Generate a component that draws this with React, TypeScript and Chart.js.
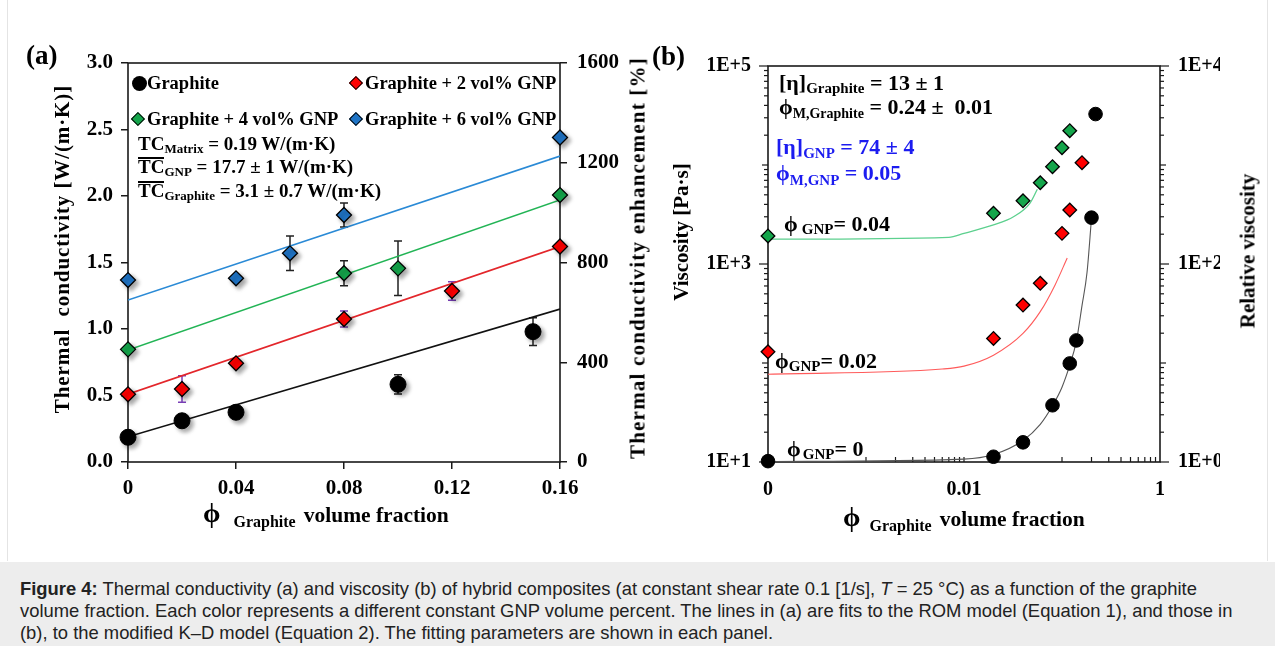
import React, { useEffect, useRef } from "react";
import { Chart, registerables } from "chart.js";

Chart.register(...registerables);

const SERIF = '"Liberation Serif", "Times New Roman", Times, serif';
const SANS = '"Liberation Sans", Arial, Helvetica, sans-serif';
const AXIS = "#1a1a1a";

// ---------------- Panel (a): thermal conductivity ----------------
const tcPhiGraphite = [0, 0.02, 0.04, 0.1, 0.15];
const tcGraphite = [0.186, 0.31, 0.374, 0.584, 0.98];
const tcErrGraphite = [0, 0, 0, 0.072, 0.104];

const tcPhiGnp2 = [0, 0.02, 0.04, 0.08, 0.12, 0.16];
const tcGnp2 = [0.509, 0.549, 0.742, 1.075, 1.286, 1.62];
const tcErrGnp2 = [0, 0.1, 0, 0.06, 0.07, 0];

const tcPhiGnp4 = [0, 0.08, 0.1, 0.16];
const tcGnp4 = [0.847, 1.419, 1.456, 2.007];
const tcErrGnp4 = [0, 0.094, 0.205, 0];

const tcPhiGnp6 = [0, 0.04, 0.06, 0.08, 0.16];
const tcGnp6 = [1.368, 1.381, 1.569, 1.857, 2.44];
const tcErrGnp6 = [0, 0, 0.13, 0.09, 0];

// ROM model fit lines
const romPhi = [0, 0.16];
const romGraphite = [0.19, 1.15];
const romGnp2 = [0.51, 1.62];
const romGnp4 = [0.842, 1.97];
const romGnp6 = [1.218, 2.3];

const tcXTicks = [0, 0.04, 0.08, 0.12, 0.16];
const tcYTicks = [0, 0.5, 1, 1.5, 2, 2.5, 3];
const tcEnhTicks = [0, 400, 800, 1200, 1600];

// ---------------- Panel (b): viscosity ----------------
const ZERO_ON_LOG = 0.0001; // the "0" tick of the log axis
const viscPhiGraphite = [0, 0.02, 0.04, 0.08, 0.12, 0.14, 0.2, 0.22];
const viscGraphite = [10.2, 11.3, 15.8, 37.4, 99, 169, 2940, 32700];
const viscPhiGnp2 = [0, 0.02, 0.04, 0.06, 0.1, 0.12, 0.16];
const viscGnp2 = [130, 177, 385, 638, 2040, 3510, 10550];
const viscPhiGnp4 = [0, 0.02, 0.04, 0.06, 0.08, 0.1, 0.12];
const viscGnp4 = [1920, 3250, 4350, 6620, 9620, 14960, 22200];

// modified K-D model fit curves
const kdPhiGraphite = [0, 0.01, 0.02, 0.04, 0.06, 0.08, 0.1, 0.12, 0.14, 0.16, 0.18, 0.2];
const kdGraphite = [10.1, 10.7, 11.9, 16.5, 24, 37, 57, 95, 165, 380, 820, 2900];
const kdPhiGnp2 = [0, 0.006, 0.01, 0.02, 0.04, 0.06, 0.085, 0.113];
const kdGnp2 = [77, 87, 93, 120, 199, 330, 615, 1150];
const kdPhiGnp4 = [0, 0.007, 0.01, 0.02, 0.032, 0.047, 0.056];
const kdGnp4 = [1780, 1860, 2040, 2480, 3000, 4100, 5690];

const viscXTicks = [0.0001, 0.01, 1];
const viscXLabels = ["0", "0.01", "1"];
const viscYTicks = [10, 1000, 100000];
const viscYLabels = ["1E+1", "1E+3", "1E+5"];
const relYTicks = [1, 100, 10000];
const relYLabels = ["1E+0", "1E+2", "1E+4"];
const viscXMinorTicks = [
  0.001, 0.002, 0.003, 0.004, 0.005, 0.006, 0.007, 0.008, 0.009, 0.01,
  0.1, 0.2, 0.3, 0.4, 0.5, 0.6, 0.7, 0.8, 0.9,
];
const logMultipliers = [2, 3, 4, 5, 6, 7, 8, 9];
const viscDecades = [10, 100, 1000, 10000];
const relDecades = [1, 10, 100, 1000];

const pts = (xs: number[], ys: number[], zero = 0) =>
  xs.map((x, i) => ({ x: x === 0 && zero ? zero : x, y: ys[i] }));

const tickFont = (size: number) => ({ family: SERIF, size, weight: "bold" as const });

function framePlugin() {
  return {
    id: "frame",
    beforeDatasetsDraw(chart: any) {
      const { ctx, chartArea: ca } = chart;
      ctx.save();
      ctx.strokeStyle = AXIS;
      ctx.lineWidth = 1.6;
      ctx.strokeRect(ca.left, ca.top, ca.right - ca.left, ca.bottom - ca.top);
      ctx.restore();
    },
  };
}

function errorBarPlugin(bars: { x: number; y: number; e: number; color: string }[]) {
  return {
    id: "errorBars",
    beforeDatasetsDraw(chart: any) {
      const { ctx } = chart;
      const xs = chart.scales.x;
      const ys = chart.scales.y;
      ctx.save();
      ctx.lineWidth = 1.5;
      bars.forEach((b) => {
        if (!b.e) return;
        const px = xs.getPixelForValue(b.x);
        const lo = ys.getPixelForValue(b.y - b.e);
        const hi = ys.getPixelForValue(b.y + b.e);
        ctx.strokeStyle = b.color;
        ctx.beginPath();
        ctx.moveTo(px, lo);
        ctx.lineTo(px, hi);
        ctx.moveTo(px - 4, lo);
        ctx.lineTo(px + 4, lo);
        ctx.moveTo(px - 4, hi);
        ctx.lineTo(px + 4, hi);
        ctx.stroke();
      });
      ctx.restore();
    },
  };
}

function shadowPlugin() {
  return {
    id: "markerShadow",
    beforeDatasetDraw(chart: any, args: any) {
      const ds = chart.data.datasets[args.index];
      if (!ds.shadow) return;
      const ctx = chart.ctx;
      ctx.save();
      ctx.shadowColor = "rgba(0,0,0,0.35)";
      ctx.shadowBlur = 4;
      ctx.shadowOffsetX = 3;
      ctx.shadowOffsetY = 3;
    },
    afterDatasetDraw(chart: any, args: any) {
      const ds = chart.data.datasets[args.index];
      if (!ds.shadow) return;
      chart.ctx.restore();
    },
  };
}

type Mark = { axis: "x" | "y" | "y2"; values: number[]; len: number };
function tickMarkPlugin(marks: Mark[]) {
  return {
    id: "tickMarks",
    beforeDatasetsDraw(chart: any) {
      const { ctx, chartArea: ca } = chart;
      ctx.save();
      ctx.strokeStyle = AXIS;
      ctx.lineWidth = 1.2;
      marks.forEach((m) => {
        const sc = chart.scales[m.axis];
        m.values.forEach((v) => {
          const p = sc.getPixelForValue(v);
          ctx.beginPath();
          if (m.axis === "x") {
            ctx.moveTo(p, ca.bottom);
            ctx.lineTo(p, ca.bottom - m.len);
          } else if (m.axis === "y") {
            ctx.moveTo(ca.left, p);
            ctx.lineTo(ca.left - m.len, p);
          } else {
            ctx.moveTo(ca.right, p);
            ctx.lineTo(ca.right + m.len, p);
          }
          ctx.stroke();
        });
      });
      ctx.restore();
    },
  };
}

const marker = (label: string, data: any[], style: string, color: string, r: number, shadow: boolean) => ({
  label,
  data,
  showLine: false,
  pointStyle: style,
  pointRadius: r,
  pointHoverRadius: r,
  backgroundColor: color,
  borderColor: "#000",
  borderWidth: style === "circle" ? 1 : 1.3,
  order: 0,
  clip: false,
  shadow,
});

const fitLine = (data: any[], color: string, width: number, smooth: boolean) => ({
  data,
  showLine: true,
  borderColor: color,
  borderWidth: width,
  pointRadius: 0,
  pointHoverRadius: 0,
  fill: false,
  order: 2,
  cubicInterpolationMode: smooth ? "monotone" : "default",
});

function ThermalChart() {
  const ref = useRef<HTMLCanvasElement | null>(null);
  useEffect(() => {
    if (!ref.current) return;
    const errBars = [
      ...tcPhiGraphite.map((x, i) => ({ x, y: tcGraphite[i], e: tcErrGraphite[i], color: "#222" })),
      ...tcPhiGnp2.map((x, i) => ({ x, y: tcGnp2[i], e: tcErrGnp2[i], color: "#7a3fb8" })),
      ...tcPhiGnp4.map((x, i) => ({ x, y: tcGnp4[i], e: tcErrGnp4[i], color: "#222" })),
      ...tcPhiGnp6.map((x, i) => ({ x, y: tcGnp6[i], e: tcErrGnp6[i], color: "#222" })),
    ];
    const chart = new Chart(ref.current, {
      type: "scatter",
      data: {
        datasets: [
          marker("Graphite", pts(tcPhiGraphite, tcGraphite), "circle", "#000", 8, true),
          marker("Graphite + 2 vol% GNP", pts(tcPhiGnp2, tcGnp2), "rectRot", "#ff0000", 7.5, true),
          marker("Graphite + 4 vol% GNP", pts(tcPhiGnp4, tcGnp4), "rectRot", "#14a54b", 7.5, true),
          marker("Graphite + 6 vol% GNP", pts(tcPhiGnp6, tcGnp6), "rectRot", "#1f74c6", 7.5, true),
          fitLine(pts(romPhi, romGraphite), "#111", 1.6, false),
          fitLine(pts(romPhi, romGnp2), "#e3262b", 1.6, false),
          fitLine(pts(romPhi, romGnp4), "#22b455", 1.6, false),
          fitLine(pts(romPhi, romGnp6), "#2a8ad6", 1.6, false),
        ] as any,
      },
      options: {
        responsive: false,
        animation: false,
        events: [],
        layout: { padding: { left: 68, right: 20, top: 63, bottom: 58 } },
        plugins: { legend: { display: false }, tooltip: { enabled: false } },
        scales: {
          x: {
            type: "linear",
            min: 0,
            max: 0.16,
            afterBuildTicks: (s: any) => {
              s.ticks = tcXTicks.map((v) => ({ value: v }));
            },
            afterFit: (s: any) => {
              s.height = 40;
            },
            ticks: {
              callback: (v: any) => String(v),
              font: tickFont(21),
              color: "#000",
              padding: 7,
              maxRotation: 0,
              autoSkip: false,
            },
            grid: { drawOnChartArea: false, drawTicks: true, tickLength: 7, color: AXIS, lineWidth: 1.5 },
            border: { display: false },
          },
          y: {
            type: "linear",
            position: "left",
            min: 0,
            max: 3,
            afterBuildTicks: (s: any) => {
              s.ticks = tcYTicks.map((v) => ({ value: v }));
            },
            afterFit: (s: any) => {
              s.width = 60;
            },
            ticks: { callback: (v: any) => Number(v).toFixed(1), font: tickFont(21), color: "#000", padding: 8 },
            grid: { drawOnChartArea: false, drawTicks: true, tickLength: 7, color: AXIS, lineWidth: 1.5 },
            border: { display: false },
          },
          y2: {
            type: "linear",
            position: "right",
            min: 0,
            max: 1600,
            afterBuildTicks: (s: any) => {
              s.ticks = tcEnhTicks.map((v) => ({ value: v }));
            },
            afterFit: (s: any) => {
              s.width = 60;
            },
            ticks: { callback: (v: any) => String(v), font: tickFont(21), color: "#000", padding: 10 },
            grid: { drawOnChartArea: false, drawTicks: true, tickLength: 7, color: AXIS, lineWidth: 1.5 },
            border: { display: false },
          },
        },
      } as any,
      plugins: [framePlugin(), errorBarPlugin(errBars), shadowPlugin()] as any,
    });
    return () => chart.destroy();
  }, []);
  return (
    <canvas
      ref={ref}
      width={640}
      height={560}
      style={{ position: "absolute", left: 0, top: 0, width: 640, height: 560 }}
    />
  );
}

function ViscosityChart() {
  const ref = useRef<HTMLCanvasElement | null>(null);
  useEffect(() => {
    if (!ref.current) return;
    const viscMinor = viscDecades.flatMap((d) => logMultipliers.map((m) => m * d));
    const relMinor = relDecades.flatMap((d) => logMultipliers.map((m) => m * d));
    const marks: Mark[] = [
      { axis: "x", values: viscXMinorTicks, len: 5 },
      { axis: "y", values: viscMinor, len: 4 },
      { axis: "y", values: [100, 10000], len: 6 },
      { axis: "y", values: viscYTicks, len: 9 },
      { axis: "y2", values: relMinor, len: 4 },
      { axis: "y2", values: [10, 1000], len: 6 },
      { axis: "y2", values: relYTicks, len: 9 },
    ];
    const chart = new Chart(ref.current, {
      type: "scatter",
      data: {
        datasets: [
          marker("Graphite", pts(viscPhiGraphite, viscGraphite, ZERO_ON_LOG), "circle", "#000", 6.8, false),
          marker("GNP 0.02", pts(viscPhiGnp2, viscGnp2, ZERO_ON_LOG), "rectRot", "#ff0000", 6.8, false),
          marker("GNP 0.04", pts(viscPhiGnp4, viscGnp4, ZERO_ON_LOG), "rectRot", "#14a54b", 6.8, false),
          fitLine(pts(kdPhiGraphite, kdGraphite, ZERO_ON_LOG), "#555", 1.1, true),
          fitLine(pts(kdPhiGnp2, kdGnp2, ZERO_ON_LOG), "#ff5b5b", 1.1, true),
          fitLine(pts(kdPhiGnp4, kdGnp4, ZERO_ON_LOG), "#5cd08e", 1.3, true),
        ] as any,
      },
      options: {
        responsive: false,
        animation: false,
        events: [],
        layout: { padding: { left: 68, right: 55, top: 66, bottom: 58 } },
        plugins: { legend: { display: false }, tooltip: { enabled: false } },
        scales: {
          x: {
            type: "logarithmic",
            min: 0.0001,
            max: 1,
            afterBuildTicks: (s: any) => {
              s.ticks = viscXTicks.map((v) => ({ value: v }));
            },
            afterFit: (s: any) => {
              s.height = 40;
            },
            ticks: {
              callback: (_v: any, i: number) => viscXLabels[i],
              font: tickFont(20),
              color: "#000",
              padding: 16,
              maxRotation: 0,
              autoSkip: false,
            },
            grid: { display: false, drawTicks: false },
            border: { display: false },
          },
          y: {
            type: "logarithmic",
            position: "left",
            min: 10,
            max: 100000,
            afterBuildTicks: (s: any) => {
              s.ticks = viscYTicks.map((v) => ({ value: v }));
            },
            afterFit: (s: any) => {
              s.width = 60;
            },
            ticks: { callback: (_v: any, i: number) => viscYLabels[i], font: tickFont(20), color: "#000", padding: 17 },
            grid: { display: false, drawTicks: false },
            border: { display: false },
          },
          y2: {
            type: "logarithmic",
            position: "right",
            min: 1,
            max: 10000,
            afterBuildTicks: (s: any) => {
              s.ticks = relYTicks.map((v) => ({ value: v }));
            },
            afterFit: (s: any) => {
              s.width = 60;
            },
            ticks: { callback: (_v: any, i: number) => relYLabels[i], font: tickFont(20), color: "#000", padding: 18 },
            grid: { display: false, drawTicks: false },
            border: { display: false },
          },
        },
      } as any,
      plugins: [framePlugin(), tickMarkPlugin(marks)] as any,
    });
    return () => chart.destroy();
  }, []);
  return (
    <canvas
      ref={ref}
      width={635}
      height={560}
      style={{ position: "absolute", left: 640, top: 0, width: 635, height: 560 }}
    />
  );
}

// ---------- text helpers (baseline-positioned) ----------
function Txt(props: {
  x: number;
  b: number;
  size: number;
  color?: string;
  family?: string;
  weight?: number;
  children: any;
  style?: any;
}) {
  const fam = props.family || SERIF;
  const k = fam === SANS ? 0.3465 : 0.3375;
  return (
    <div
      style={{
        position: "absolute",
        left: props.x,
        top: props.b - k * props.size,
        fontFamily: fam,
        fontSize: props.size,
        fontWeight: props.weight ?? 700,
        color: props.color || "#000",
        lineHeight: 0,
        whiteSpace: "nowrap",
        ...(props.style || {}),
      }}
    >
      {props.children}
    </div>
  );
}

const Sub = (p: { s: number; d: number; children: any; ml?: number }) => (
  <span style={{ fontSize: p.s, verticalAlign: -p.d, marginLeft: p.ml || 0 }}>{p.children}</span>
);
const Sz = (p: { s: number; children: any; ml?: number; style?: any }) => (
  <span style={{ fontSize: p.s, marginLeft: p.ml || 0, ...(p.style || {}) }}>{p.children}</span>
);

function Bar(p: { x: number; y: number; w: number }) {
  return (
    <div style={{ position: "absolute", left: p.x, top: p.y, width: p.w, height: 1.5, background: "#000" }} />
  );
}

function VTxt(p: { cx: number; cy: number; size: number; ls?: number; children: any }) {
  return (
    <div
      style={{
        position: "absolute",
        left: p.cx,
        top: p.cy,
        transform: "translate(-50%, -50%) rotate(-90deg)",
        fontFamily: SERIF,
        fontWeight: 700,
        fontSize: p.size,
        letterSpacing: p.ls || 0,
        lineHeight: 1,
        whiteSpace: "nowrap",
      }}
    >
      {p.children}
    </div>
  );
}

function Dot(p: { cx: number; cy: number; r: number }) {
  return (
    <div
      style={{
        position: "absolute",
        left: p.cx - p.r,
        top: p.cy - p.r,
        width: 2 * p.r,
        height: 2 * p.r,
        borderRadius: "50%",
        background: "#000",
      }}
    />
  );
}

function Diamond(p: { cx: number; cy: number; r: number; color: string }) {
  const s = p.r * Math.SQRT2;
  return (
    <div
      style={{
        position: "absolute",
        left: p.cx - s / 2,
        top: p.cy - s / 2,
        width: s,
        height: s,
        background: p.color,
        border: "1.3px solid #000",
        boxSizing: "border-box",
        transform: "rotate(45deg)",
      }}
    />
  );
}

const BLUE = "#1c1cf0";

export default function App() {
  return (
    <div
      style={{
        position: "absolute",
        left: 0,
        top: 0,
        width: 1275,
        height: 646,
        background: "#fff",
        overflow: "hidden",
      }}
    >
      <div
        style={{
          position: "absolute",
          left: 7,
          top: -1,
          width: 1259,
          height: 562,
          borderLeft: "1px solid #e4e4e4",
          borderRight: "1px solid #e4e4e4",
        }}
      />
      <ThermalChart />
      <ViscosityChart />

      {/* ---- panel (a) texts ---- */}
      <Txt x={26} b={64} size={27}>(a)</Txt>
      <VTxt cx={62} cy={249} size={21} ls={0.9}>Thermal&nbsp; conductivity [W/(m·K)]</VTxt>
      <VTxt cx={638} cy={258} size={21} ls={1.2}>Thermal conductivity enhancement [%]</VTxt>
      <Txt x={203} b={522} size={28}>
        <Sz s={28}>ϕ</Sz>
        <Sub s={16} d={5} ml={13}>Graphite</Sub>
        <Sz s={21.5} ml={8}>volume fraction</Sz>
      </Txt>

      <Dot cx={139} cy={83} r={7.5} />
      <Txt x={147} b={89} size={18.5}>Graphite</Txt>
      <Diamond cx={356} cy={83} r={7} color="#ff0000" />
      <Txt x={365} b={89} size={18.5}>Graphite + 2 vol% GNP</Txt>
      <Diamond cx={138} cy={119} r={7} color="#14a54b" />
      <Txt x={147} b={125} size={18.5}>Graphite + 4 vol% GNP</Txt>
      <Diamond cx={356} cy={119} r={7} color="#1f74c6" />
      <Txt x={365} b={125} size={18.5}>Graphite + 6 vol% GNP</Txt>

      <Txt x={138} b={150} size={19}>
        TC<Sub s={13} d={3}>Matrix</Sub> = 0.19 W/(m·K)
      </Txt>
      <Bar x={138} y={157} w={26} />
      <Txt x={138} b={173} size={19}>
        TC<Sub s={13} d={3}>GNP</Sub> = 17.7 ± 1 W/(m·K)
      </Txt>
      <Bar x={138} y={181} w={26} />
      <Txt x={138} b={197} size={19}>
        TC<Sub s={13} d={3}>Graphite</Sub> = 3.1 ± 0.7 W/(m·K)
      </Txt>

      {/* ---- panel (b) texts ---- */}
      <Txt x={652} b={65} size={27}>(b)</Txt>
      <VTxt cx={681} cy={232} size={21}>Viscosity [Pa·s]</VTxt>
      <VTxt cx={1248} cy={251} size={21}>Relative viscosity</VTxt>
      <Txt x={843} b={526} size={28}>
        <Sz s={28}>ϕ</Sz>
        <Sub s={16} d={5} ml={9}>Graphite</Sub>
        <Sz s={21.5} ml={8}>volume fraction</Sz>
      </Txt>

      <Txt x={779} b={90} size={22}>
        [η]<Sub s={15} d={3}>Graphite</Sub> = 13 ± 1
      </Txt>
      <Txt x={779} b={114} size={22}>
        ϕ<Sub s={14} d={4}>M,Graphite</Sub> = 0.24 ±&nbsp; 0.01
      </Txt>
      <Txt x={776} b={154} size={22} color={BLUE}>
        [η]<Sub s={15} d={4}>GNP</Sub> = 74 ± 4
      </Txt>
      <Txt x={776} b={180} size={22} color={BLUE}>
        ϕ<Sub s={15} d={5}>M,GNP</Sub> = 0.05
      </Txt>
      <Txt x={784} b={231} size={22}>
        ϕ<Sub s={15} d={3} ml={4}>GNP</Sub>= 0.04
      </Txt>
      <Txt x={775} b={368} size={22}>
        ϕ<Sub s={15} d={3}>GNP</Sub>= 0.02
      </Txt>
      <Txt x={787} b={456} size={22}>
        ϕ<Sub s={15} d={3} ml={2}>GNP</Sub>= 0
      </Txt>

      {/* ---- caption ---- */}
      <div
        style={{
          position: "absolute",
          left: 0,
          top: 562,
          width: 1275,
          height: 84,
          background: "#ededed",
        }}
      >
        <div
          style={{
            position: "absolute",
            left: 20,
            top: 16,
            fontFamily: SANS,
            fontSize: 18.4,
            lineHeight: "22px",
            color: "#222",
            whiteSpace: "nowrap",
          }}
        >
          <b>Figure 4:</b> Thermal conductivity (a) and viscosity (b) of hybrid composites (at constant shear rate 0.1 [1/s], <i>T</i> = 25 °C) as a function of the graphite
          <br />
          volume fraction. Each color represents a different constant GNP volume percent. The lines in (a) are fits to the ROM model (Equation 1), and those in
          <br />
          (b), to the modified K–D model (Equation 2). The fitting parameters are shown in each panel.
        </div>
      </div>
    </div>
  );
}
